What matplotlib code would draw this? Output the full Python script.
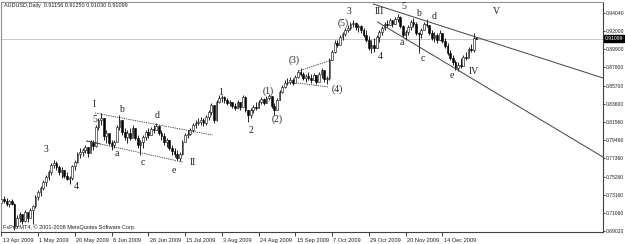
import matplotlib
matplotlib.use('Agg')
import matplotlib.pyplot as plt
from matplotlib.transforms import blended_transform_factory, ScaledTranslation

# daily bars, AUDUSD (bar index 0 = 13 Apr 2009)
highs = [
    .7292, .7304, .7281, .7258, .7269, .7224, .7086, .7120, .7097, .7143,
    .7120, .7166, .7201, .7315, .7372, .7418, .7487, .7545, .7602, .7683,
    .7717, .7705, .7660, .7637, .7602, .7579, .7533, .7660, .7717, .7809,
    .7854, .7854, .7889, .7866, .7946, .7946, .8119, .8199, .8256, .8199,
    .8061, .8004, .7946, .7946, .8119, .8233, .8176, .8084, .8061, .8084,
    .8119, .8084, .8004, .7946, .8004, .8061, .8084, .8096, .8119, .8142,
    .8119, .8061, .8027, .7969, .7946, .7889, .7854, .7832, .7809, .7946,
    .8027, .8061, .8084, .8142, .8176, .8199, .8210, .8199, .8233, .8291,
    .8371, .8348, .8406, .8463, .8463, .8451, .8428, .8406, .8383, .8371,
    .8406, .8383, .8463, .8451, .8291, .8314, .8348, .8383, .8406, .8440,
    .8428, .8451, .8474, .8428, .8371, .8428, .8520, .8578, .8635, .8658,
    .8669, .8658, .8692, .8750, .8773, .8727, .8704, .8727, .8704, .8715,
    .8692, .8727, .8773, .8750, .8681, .8888, .8979, .9094, .9094, .9152,
    .9186, .9232, .9266, .9301, .9324, .9301, .9278, .9266, .9232, .9209,
    .9140, .9094, .9117, .9152, .9209, .9255, .9301, .9324, .9347, .9324,
    .9358, .9393, .9370, .9266, .9209, .9266, .9324, .9347, .9301, .9186,
    .9232, .9301, .9335, .9266, .9209, .9186, .9175, .9209, .9175, .9117,
    .9060, .8979, .8922, .8865, .8842, .8888, .8922, .8956, .9014, .9048,
    .9175, .9125]
lows = [
    .7201, .7224, .7189, .7178, .7201, .6913, .6936, .7005, .6982, .7005,
    .7005, .7051, .6982, .7166, .7258, .7304, .7372, .7418, .7487, .7545,
    .7625, .7602, .7545, .7510, .7510, .7487, .7441, .7487, .7602, .7683,
    .7740, .7763, .7797, .7751, .7832, .7832, .7866, .8061, .8119, .7946,
    .7912, .7889, .7832, .7854, .7923, .8061, .8004, .7946, .7912, .7946,
    .8004, .7946, .7854, .7774, .7854, .7946, .7969, .8004, .8027, .8061,
    .8004, .7946, .7889, .7866, .7832, .7774, .7751, .7717, .7705, .7774,
    .7923, .7969, .8004, .8038, .8084, .8119, .8119, .8107, .8119, .8176,
    .8233, .8142, .8165, .8371, .8383, .8371, .8348, .8337, .8314, .8291,
    .8314, .8291, .8348, .8268, .8153, .8199, .8256, .8291, .8314, .8360,
    .8348, .8371, .8406, .8314, .8233, .8291, .8406, .8486, .8543, .8578,
    .8589, .8578, .8612, .8658, .8681, .8635, .8612, .8635, .8601, .8635,
    .8589, .8635, .8658, .8612, .8589, .8635, .8865, .8945, .9014, .9060,
    .9094, .9140, .9186, .9209, .9243, .9209, .9186, .9175, .9129, .9071,
    .8979, .8945, .8956, .9002, .9071, .9152, .9209, .9243, .9266, .9243,
    .9278, .9301, .9232, .9129, .9094, .9152, .9209, .9243, .9152, .8945,
    .9117, .9209, .9243, .9152, .9094, .9071, .9060, .9094, .9060, .9002,
    .8922, .8865, .8807, .8750, .8738, .8773, .8819, .8865, .8911, .8956,
    .8956, .9103]
closes = [
    .7269, .7246, .7212, .7246, .7212, .6959, .7051, .7097, .7017, .7120,
    .7051, .7143, .7189, .7292, .7350, .7395, .7464, .7522, .7579, .7660,
    .7683, .7637, .7579, .7602, .7533, .7499, .7510, .7648, .7694, .7786,
    .7809, .7832, .7866, .7797, .7923, .7877, .8096, .8176, .8199, .7992,
    .8027, .7912, .7889, .7923, .8096, .8176, .8038, .7981, .8027, .7969,
    .8084, .7969, .7889, .7923, .7981, .8038, .8004, .8073, .8061, .8107,
    .8027, .7992, .7923, .7946, .7854, .7820, .7786, .7740, .7786, .7923,
    .8004, .8015, .8061, .8119, .8142, .8153, .8176, .8142, .8210, .8268,
    .8348, .8176, .8383, .8428, .8440, .8406, .8371, .8383, .8337, .8314,
    .8383, .8325, .8440, .8291, .8233, .8291, .8325, .8314, .8383, .8417,
    .8371, .8428, .8451, .8337, .8291, .8406, .8497, .8555, .8601, .8612,
    .8635, .8601, .8669, .8727, .8704, .8658, .8681, .8658, .8635, .8692,
    .8612, .8704, .8750, .8647, .8658, .8865, .8956, .9060, .9037, .9129,
    .9163, .9209, .9232, .9278, .9289, .9243, .9255, .9209, .9152, .9094,
    .9002, .9037, .9002, .9129, .9186, .9232, .9278, .9266, .9324, .9278,
    .9335, .9358, .9255, .9152, .9186, .9243, .9301, .9278, .9175, .9163,
    .9209, .9278, .9266, .9175, .9117, .9152, .9094, .9175, .9083, .9025,
    .8945, .8888, .8842, .8773, .8807, .8796, .8899, .8888, .8991, .8979,
    .9117, .9110]
first_open = .7224
opens = [first_open] + closes[:-1]

date_labels = ['13 Apr 2009', '1 May 2009', '20 May 2009', '8 Jun 2009', '26 Jun 2009',
               '15 Jul 2009', '3 Aug 2009', '24 Aug 2009', '15 Sep 2009', '7 Oct 2009',
               '29 Oct 2009', '20 Nov 2009', '14 Dec 2009']
date_bars = [0, 14, 28, 42, 56, 70, 84, 98, 112, 126, 140, 154, 168]
price_ticks = [0.69020, 0.71060, 0.73160, 0.75260, 0.77360, 0.79460, 0.81560,
               0.83600, 0.85700, 0.87800, 0.89900, 0.92000, 0.94040]
bid = 0.91099
header = 'AUDUSD,Daily  0.91156 0.91250 0.91030 0.91099'

# elliott wave labels: (text, bar, price)
wave_labels = [
    ('3', 17.0, .7832), ('4', 28.4, .7418), ('I', 35.3, .8359), ('5', 35.7, .8187),
    ('b', 45.9, .8291), ('a', 44.0, .7797), ('d', 59.2, .8233), ('c', 53.9, .7683),
    ('e', 65.7, .7602), ('II', 72.9, .7683), ('1', 83.6, .8486), ('2', 95.0, .8061),
    ('(1)', 101.8, .8509), ('(2)', 105.2, .8187), ('(3)', 111.7, .8865),
    ('(4)', 128.1, .8532), ('(5)', 130.3, .9289), ('3', 132.6, .9416),
    ('4', 144.4, .8899), ('III', 144.0, .9416), ('5', 153.2, .9473),
    ('a', 152.4, .9071), ('b', 158.9, .9393), ('c', 160.4, .8876),
    ('d', 165.0, .9358), ('e', 171.8, .8692), ('IV', 179.8, .8738), ('V', 188.5, .9416)]

# drawn trendlines: (bar0, price0, bar1, price1)
dotted_lines = [(35.7, .8256, 80.5, .8004), (32.6, .7935, 69.1, .7694),
                (113.2, .8738, 125.8, .8865), (112.9, .8601, 124.6, .8555)]
solid_lines = [(141.7, .9507, 229.2, .8658), (143.3, .9301, 229.2, .7751),
               (32.6, .7935, 37.5, .7903)]

plt.rcParams['font.family'] = ['Liberation Sans', 'DejaVu Sans']

fig = plt.figure(figsize=(6.25, 2.44), dpi=100)
fig.patch.set_facecolor('white')
ax = fig.add_axes([1 / 625, 12 / 244, 602 / 625, 230 / 244])

x = list(range(len(closes)))
ax.vlines(x, lows, highs, color='black', linewidth=0.6, zorder=2)
bottoms = [min(o, c) for o, c in zip(opens, closes)]
heights = [max(abs(c - o), 0.0004) for o, c in zip(opens, closes)]
colors = ['white' if c >= o else 'black' for o, c in zip(opens, closes)]
ax.bar(x, heights, bottom=bottoms, width=0.65, color=colors,
       edgecolor='black', linewidth=0.4, zorder=3)

ax.axhline(bid, color='#c8c8c8', linewidth=0.7, zorder=0)

for x0, y0, x1, y1 in dotted_lines:
    ax.plot([x0, x1], [y0, y1], color='#303030', linewidth=0.6,
            linestyle=(0, (1.5, 1.2)), zorder=4)
for x0, y0, x1, y1 in solid_lines:
    ax.plot([x0, x1], [y0, y1], color='#404040', linewidth=0.7, zorder=4)

for txt, bx, by in wave_labels:
    ax.text(bx, by, txt, family='Liberation Serif', fontsize=7, color='#222222',
            ha='center', va='center', zorder=5)

ax.set_xlim(-0.1, 229.2)
ax.set_ylim(0.6891, 0.9530)

ax.yaxis.tick_right()
ax.set_yticks(price_ticks)
ax.set_yticklabels(['%.5f' % v for v in price_ticks])
ax.tick_params(axis='y', direction='out', length=1.5, width=0.6, pad=0.5,
               labelsize=3.6, colors='#202020')
ax.set_xticks(date_bars)
ax.set_xticklabels(date_labels, ha='left')
ax.tick_params(axis='x', direction='out', length=3, width=0.6, pad=1,
               labelsize=4.1, colors='#202020')
shift = ScaledTranslation(1.0 / 72, 0, fig.dpi_scale_trans)
for lbl in ax.get_xticklabels():
    lbl.set_transform(lbl.get_transform() + shift)

for side in ['left', 'top']:
    ax.spines[side].set_color('#909090')
    ax.spines[side].set_linewidth(0.8)
for side in ['right', 'bottom']:
    ax.spines[side].set_color('#404040')
    ax.spines[side].set_linewidth(0.8)

trans = blended_transform_factory(ax.transAxes, ax.transData)
ax.text(1.003, bid, '%.5f' % bid, transform=trans, fontsize=3.6, color='white',
        ha='left', va='center', zorder=6,
        bbox=dict(boxstyle='square,pad=0.15', facecolor='black', edgecolor='black'))

fig.text(4 / 625, 1 - 6 / 244, header, fontsize=4.0, color='#202020', ha='left', va='center')
fig.text(3 / 625, 1 - 227 / 244, 'FxPro MT4, \u00a9 2001-2008 MetaQuotes Software Corp.',
         fontsize=4.0, color='#202020', ha='left', va='center')

fig.savefig('out.png', dpi=100)
plt.close(fig)
